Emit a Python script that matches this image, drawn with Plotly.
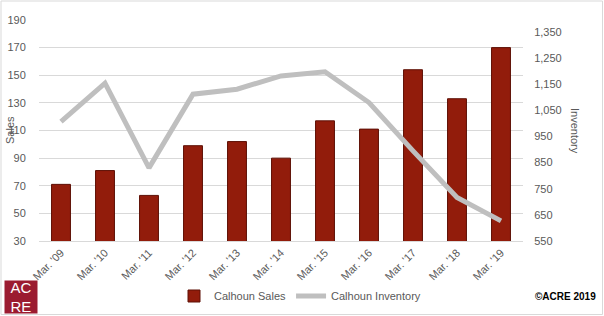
import plotly.graph_objects as go

categories = ["Mar. '09", "Mar. '10", "Mar. '11", "Mar. '12", "Mar. '13", "Mar. '14",
              "Mar. '15", "Mar. '16", "Mar. '17", "Mar. '18", "Mar. '19"]
sales = [71, 81, 63, 99, 102, 90, 117, 111, 154, 133, 170]
inventory = [1007, 1154, 830, 1112, 1131, 1182, 1198, 1080, 895, 717, 627]
sales_ticks = [30, 50, 70, 90, 110, 130, 150, 170, 190]
inv_ticks = [550, 650, 750, 850, 950, 1050, 1150, 1250, 1350]

W, H = 604, 316
L, R, T, B = 39, 81, 20, 75
PW, PH = W - L - R, H - T - B


def px(x):
    return (x - L) / PW


def py(y):
    return (H - B - y) / PH


FONT = "Liberation Sans"
GREY = "#595959"

fig = go.Figure()
fig.add_trace(go.Bar(
    x=categories, y=sales, name="Calhoun Sales",
    marker=dict(color="#921c0b", line=dict(color="#5e1006", width=1)),
    yaxis="y",
))
fig.add_trace(go.Scatter(
    x=categories, y=inventory, name="Calhoun Inventory", mode="lines",
    line=dict(color="#bfbfbf", width=5), yaxis="y2",
))

shapes = [
    dict(type="rect", xref="paper", yref="paper", x0=px(1), x1=px(W - 1.5), y0=py(H - 1.5), y1=py(1),
         line=dict(color="#d9d9d9", width=1), fillcolor="rgba(0,0,0,0)", layer="below"),
]
annotations = [
    dict(text="Sales", x=px(10), y=py(130), xref="paper", yref="paper", showarrow=False,
         xanchor="center", textangle=-90, font=dict(family=FONT, size=11, color=GREY)),
    dict(text="Inventory", x=px(575), y=py(131), xref="paper", yref="paper", showarrow=False,
         xanchor="center", textangle=90, font=dict(family=FONT, size=11, color=GREY)),
    dict(text="AC<br>RE", x=px(4), y=py(280), xref="paper", yref="paper", showarrow=False,
         xanchor="left", yanchor="top", width=32, height=32, bgcolor="#9b1b30",
         borderpad=0, align="center", valign="middle",
         font=dict(family=FONT, size=15, color="white")),
    dict(text="<b>©ACRE 2019</b>", x=px(598), y=py(304), xref="paper", yref="paper",
         showarrow=False, xanchor="right", font=dict(family=FONT, size=10, color="black")),
]

fig.update_layout(
    width=W, height=H, margin=dict(l=L, r=R, t=T, b=B, autoexpand=False),
    paper_bgcolor="white", plot_bgcolor="white",
    font=dict(family=FONT, size=11, color=GREY),
    bargap=0.57, showlegend=True,
    legend=dict(orientation="h", x=px(300), xanchor="center", y=py(296), yanchor="middle",
                font=dict(family=FONT, size=11, color=GREY), itemwidth=30),
    xaxis=dict(tickangle=-45, showline=True, linecolor="#d9d9d9", linewidth=1,
               ticks="", showgrid=False, tickfont=dict(size=11, color=GREY)),
    yaxis=dict(range=[30, 190], tickvals=sales_ticks, showgrid=True, gridcolor="#d9d9d9",
               zeroline=False, ticks="outside", ticklen=10, tickcolor="rgba(0,0,0,0)",
               tickfont=dict(size=11, color=GREY)),
    yaxis2=dict(range=[550, 1396], tickvals=inv_ticks, tickformat=",", overlaying="y",
                side="right", showgrid=False, zeroline=False, ticks="outside", ticklen=8,
                tickcolor="rgba(0,0,0,0)", tickfont=dict(size=11, color=GREY)),
    shapes=shapes, annotations=annotations,
)

fig.write_html("out.html")
